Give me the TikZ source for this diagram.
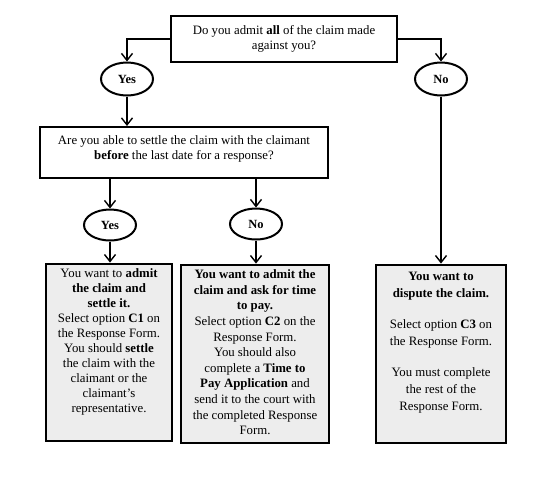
\documentclass[tikz,border=0pt]{standalone}
\usepackage{fontspec}
\setmainfont{Liberation Serif}
\usetikzlibrary{arrows.meta,shapes.geometric}
\begin{document}
\begin{tikzpicture}[x=1pt,y=-1pt,
  qbox/.style={draw,line width=2pt,fill=white,inner sep=0pt},
  abox/.style={draw,line width=2.8pt,fill=black!7,inner sep=0pt},
  oval/.style={draw,ellipse,line width=2pt,minimum width=52pt,minimum height=33pt,inner sep=0pt,font=\fontsize{12.5}{15}\selectfont\bfseries},
  conn/.style={line width=1.4pt,-{Straight Barb[length=7pt,width=11pt,line width=1.4pt]}},
  txt/.style={align=center,inner sep=0pt,font=\fontsize{12.8}{15}\selectfont},
]
\useasboundingbox (0,0) rectangle (553,483);
% question boxes
\node[qbox,minimum width=226pt,minimum height=46pt,txt] (q1) at (284,39) {Do you admit \textbf{all} of the claim made\\against you?};
\node[qbox,minimum width=288pt,minimum height=51pt] (q2) at (184,152.5) {};
\node[txt,anchor=north,yshift=-9pt] (q2t) at (q2.north) {Are you able to settle the claim with the claimant\\\textbf{before} the last date for a response?};
% ovals
\node[oval] (y1) at (127,79) {Yes};
\node[oval] (n1) at (441,79) {No};
\node[oval,minimum height=31pt] (y2) at (110,225) {Yes};
\node[oval,minimum height=31pt] (n2) at (256,224) {No};
% answer boxes
\node[abox,minimum width=126pt,minimum height=177pt] (a1) at (109,352.5) {};
\node[abox,minimum width=148pt,minimum height=178pt] (a2) at (255,354) {};
\node[abox,minimum width=130pt,minimum height=178pt] (a3) at (441,354) {};
\node[txt,anchor=north,yshift=-6pt] (a1t) at (a1.north) {You want to \textbf{admit}\\\textbf{the claim and}\\\textbf{settle it.}\\Select option \textbf{C1} on\\the Response Form.\\You should \textbf{settle}\\the claim with the\\claimant or the\\claimant’s\\representative.};
\node[txt,anchor=north,yshift=-6pt,font=\fontsize{12.8}{15.6}\selectfont] (a2t) at (a2.north) {\textbf{You want to admit the}\\\textbf{claim and ask for time}\\\textbf{to pay.}\\Select option \textbf{C2} on the\\Response Form.\\You should also\\complete a \textbf{Time to}\\\textbf{Pay Application} and\\send it to the court with\\the completed Response\\Form.};
\node[txt,anchor=north,yshift=-8pt,font=\fontsize{12.8}{17}\selectfont] (a3t) at (a3.north) {\textbf{You want to}\\\textbf{dispute the claim.}\\[14pt]Select option \textbf{C3} on\\the Response Form.\\[14pt]You must complete\\the rest of the\\Response Form.};
% connectors
\draw[conn] (q1.west) -| (y1.north);
\draw[conn] (q1.east) -| (n1.north);
\draw[conn] (y1.south) -- (y1.south |- q2.north);
\draw[conn] (q2.south -| y2.north) -- (y2.north);
\draw[conn] (q2.south -| n2.north) -- (n2.north);
\draw[conn] (y2.south) -- (y2.south |- a1.north);
\draw[conn] (n2.south) -- (n2.south |- a2.north);
\draw[conn] (n1.south) -- (n1.south |- a3.north);
\end{tikzpicture}
\end{document}
